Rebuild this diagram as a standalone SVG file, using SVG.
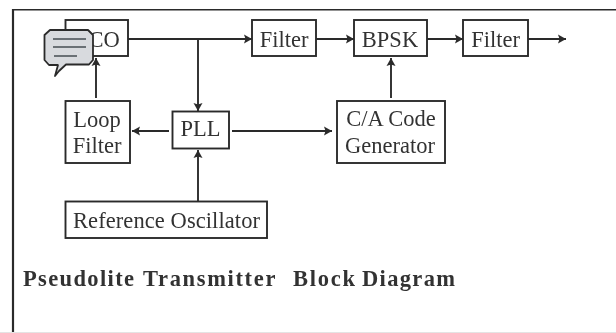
<svg xmlns="http://www.w3.org/2000/svg" width="616" height="333" viewBox="0 0 616 333">
<style>
.b{fill:#fff;stroke:#2b2b2b;stroke-width:1.9}
.t{font-family:"Liberation Serif",serif;font-size:22.500px;fill:#333;text-anchor:middle}
.c{fill:none;stroke:#2b2b2b;stroke-width:1.9}
.h{font-family:"Liberation Serif",serif;font-size:22.500px;font-weight:bold;fill:#333}
</style>
<defs>
<marker id="a" markerWidth="10" markerHeight="10" refX="8" refY="5" orient="auto" markerUnits="userSpaceOnUse"><path d="M0 0.500L8 5L0 9.500L1.500 5Z" fill="#2b2b2b"/></marker>
<filter id="soft" x="0" y="0" width="100%" height="100%"><feGaussianBlur stdDeviation="0.45"/></filter>
</defs>
<rect width="616" height="333" fill="#fff"/>
<g filter="url(#soft)">
<path id="frame" d="M13 333V9.500H616" fill="none" stroke="#2b2b2b" stroke-width="2.200"/>
<rect x="0" y="332" width="616" height="1" fill="#e4e4e4"/>
<g id="connectors">
<path class="c" marker-end="url(#a)" d="M128 39H252"/>
<path class="c" marker-end="url(#a)" d="M198 39V111"/>
<path class="c" marker-end="url(#a)" d="M316 39H354"/>
<path class="c" marker-end="url(#a)" d="M427 39H463"/>
<path class="c" marker-end="url(#a)" d="M528 39H566"/>
<path class="c" marker-end="url(#a)" d="M96 98V58"/>
<path class="c" marker-end="url(#a)" d="M169 131H132"/>
<path class="c" marker-end="url(#a)" d="M232 131H332"/>
<path class="c" marker-end="url(#a)" d="M391 98V58"/>
<path class="c" marker-end="url(#a)" d="M198 201V150"/>
</g>
<g id="vco"><rect class="b" x="65.500" y="20" width="62.500" height="36"/><text class="t" x="96" y="46.500">VCO</text></g>
<g id="filter1"><rect class="b" x="252" y="20" width="64" height="36"/><text class="t" x="284" y="46.500">Filter</text></g>
<g id="bpsk"><rect class="b" x="354" y="20" width="73" height="36"/><text class="t" x="390" y="46.500">BPSK</text></g>
<g id="filter2"><rect class="b" x="463" y="20" width="65" height="36"/><text class="t" x="495.500" y="46.500">Filter</text></g>
<g id="loop"><rect class="b" x="65.500" y="101" width="64.500" height="62"/><text class="t" x="97" y="127">Loop</text><text class="t" x="97" y="153">Filter</text></g>
<g id="pll"><rect class="b" x="172.500" y="111.500" width="56.500" height="37"/><text class="t" x="200.500" y="136">PLL</text></g>
<g id="ca"><rect class="b" x="337" y="101" width="108" height="62"/><text class="t" x="391" y="126">C/A Code</text><text class="t" x="390" y="153">Generator</text></g>
<g id="ref"><rect class="b" x="65.500" y="201.500" width="201.500" height="36.500"/><text class="t" x="166.500" y="228" textLength="187">Reference Oscillator</text></g>
<g id="bubble">
<path d="M50 30H88L93 35V60L89 64.500H66L59 71L55 76L58 65H49L44.500 60V35Z" fill="#d8dade" stroke="#2b2b2b" stroke-width="1.800" stroke-linejoin="round"/>
<path d="M53 39H86M53 47H86M54 56H77" stroke="#6b6f75" stroke-width="1.800" fill="none"/>
</g>
<text id="title" class="h" y="286"><tspan x="23" textLength="111">Pseudolite</tspan> <tspan x="143" textLength="132">Transmitter</tspan> <tspan x="293" textLength="62">Block</tspan> <tspan x="362" textLength="93">Diagram</tspan></text>
</g>
</svg>
